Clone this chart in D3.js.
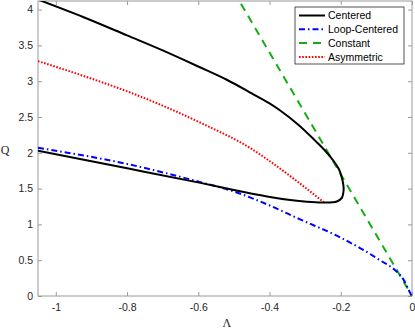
<!DOCTYPE html>
<html>
<head>
<meta charset="utf-8">
<script src="https://cdn.jsdelivr.net/npm/d3@7"></script>
<style>
  body { margin: 0; background: #fff; }
  .axis text { font-family: "Liberation Sans", Arial, sans-serif; font-size: 10.5px; fill: #262626; }
  .axis line, .axis path { stroke: #9a9a9a; }
</style>
</head>
<body>
<div id="chart"></div>
<script>
// tick labels
var lambdaTicks = [-1, -0.8, -0.6, -0.4, -0.2, 0];
var qTicks = [0, 0.5, 1, 1.5, 2, 2.5, 3, 3.5, 4];

// curves, [Lambda, Q]
var centered = [
  [-1.05, 4.14], [-0.92, 3.89], [-0.8, 3.64], [-0.7, 3.43], [-0.6, 3.205],
  [-0.52, 3.02], [-0.45, 2.83], [-0.4, 2.69], [-0.37, 2.59], [-0.32, 2.395],
  [-0.272, 2.17], [-0.245, 2.035], [-0.22, 1.885], [-0.205, 1.77], [-0.197, 1.65],
  [-0.193, 1.56], [-0.192, 1.48], [-0.197, 1.37], [-0.211, 1.32], [-0.248, 1.305],
  [-0.295, 1.315], [-0.342, 1.34], [-0.407, 1.39], [-0.5, 1.48], [-0.594, 1.58],
  [-0.796, 1.78], [-1.05, 2.03]
];
var loopCentered = [
  [-1.05, 2.07], [-0.796, 1.84], [-0.594, 1.59], [-0.5, 1.46], [-0.407, 1.28],
  [-0.314, 1.07], [-0.202, 0.82], [-0.146, 0.67], [-0.09, 0.5], [-0.043, 0.34],
  [-0.024, 0.23], [-0.006, 0.05], [-0.002, 0.01]
];
var constant = [[-0.5, 4.25], [0, 0]];
var asymmetric = [
  [-1.05, 3.28], [-0.92, 3.07], [-0.79, 2.84], [-0.594, 2.42], [-0.449, 2.05],
  [-0.407, 1.91], [-0.33, 1.63], [-0.248, 1.31]
];

var seriesNames = ["Centered", "Loop-Centered", "Constant", "Asymmetric"];
var seriesData = [centered, loopCentered, constant, asymmetric];
var seriesColors = ["#000000", "#0000ff", "#14ad14", "#ff0000"];
var seriesDash = [null, "6,3,1.5,3", "8,6", "1.6,1.6"];

var W = 415, H = 329;
var margin = {top: 1, right: 3, bottom: 33, left: 38},
    width = W - margin.left - margin.right,
    height = H - margin.top - margin.bottom;

var svg = d3.select("#chart")
  .append("svg")
    .attr("width", W)
    .attr("height", H);

var g = svg.append("g")
    .attr("transform", "translate(" + margin.left + "," + margin.top + ")");

var x = d3.scaleLinear().domain([-1.05, 0]).range([0, width]);
var y = d3.scaleLinear().domain([0, 4.12]).range([height, 0]);

g.append("clipPath").attr("id", "clip")
  .append("rect").attr("width", width).attr("height", height);

// axes, ticks pointing in
g.append("g").attr("class", "axis")
  .attr("transform", "translate(0," + height + ")")
  .call(d3.axisBottom(x).tickValues(lambdaTicks).tickSize(-4).tickPadding(8)
    .tickFormat(d => String(d)));
g.append("g").attr("class", "axis")
  .call(d3.axisLeft(y).tickValues(qTicks).tickSize(-4).tickPadding(5)
    .tickFormat(d => String(d)));
g.append("g").attr("class", "axis")
  .call(d3.axisTop(x).tickValues(lambdaTicks).tickSize(-4).tickFormat(""));
g.append("g").attr("class", "axis")
  .attr("transform", "translate(" + width + ",0)")
  .call(d3.axisRight(y).tickValues(qTicks).tickSize(-4).tickFormat(""));
g.selectAll(".axis .domain").remove();
g.append("rect")
  .attr("width", width).attr("height", height)
  .attr("fill", "none").attr("stroke", "#9a9a9a");

var smooth = d3.line()
  .x(d => x(d[0]))
  .y(d => y(d[1]))
  .curve(d3.curveCatmullRom.alpha(0.5));
var monotone = d3.line()
  .x(d => x(d[0]))
  .y(d => y(d[1]))
  .curve(d3.curveMonotoneX);

var plot = g.append("g").attr("clip-path", "url(#clip)");
// draw order: constant, asymmetric, loop, centered
[2, 1, 3, 0].forEach(function(i) {
  plot.append("path")
    .datum(seriesData[i])
    .attr("d", i === 0 ? smooth : monotone)
    .attr("fill", "none")
    .attr("stroke", seriesColors[i])
    .attr("stroke-width", 2)
    .attr("stroke-dasharray", seriesDash[i]);
});

// labels
svg.append("text")
  .attr("x", margin.left + x(-0.52)).attr("y", 327)
  .attr("text-anchor", "middle")
  .attr("font-family", "Liberation Serif, serif")
  .attr("font-size", 12)
  .attr("fill", "#262626")
  .text("Λ");
svg.append("text")
  .attr("x", 5).attr("y", 153.5)
  .attr("text-anchor", "middle")
  .attr("font-family", "Liberation Serif, serif")
  .attr("font-size", 12)
  .attr("fill", "#262626")
  .text("Q");

// legend
var legend = svg.append("g").attr("transform", "translate(295,7)");
legend.append("rect")
  .attr("width", 109).attr("height", 57)
  .attr("fill", "#fff").attr("stroke", "#262626").attr("stroke-width", 0.8);
seriesNames.forEach(function(name, i) {
  var ly = 8.5 + i * 13.8;
  legend.append("line")
    .attr("x1", 4).attr("x2", 30).attr("y1", ly).attr("y2", ly)
    .attr("stroke", seriesColors[i]).attr("stroke-width", 2)
    .attr("stroke-dasharray", seriesDash[i]);
  legend.append("text")
    .attr("x", 33).attr("y", ly).attr("dy", "0.35em")
    .attr("font-family", "Liberation Sans, Arial, sans-serif")
    .attr("font-size", 10.5)
    .attr("fill", "#000")
    .text(name);
});
</script>
</body>
</html>
